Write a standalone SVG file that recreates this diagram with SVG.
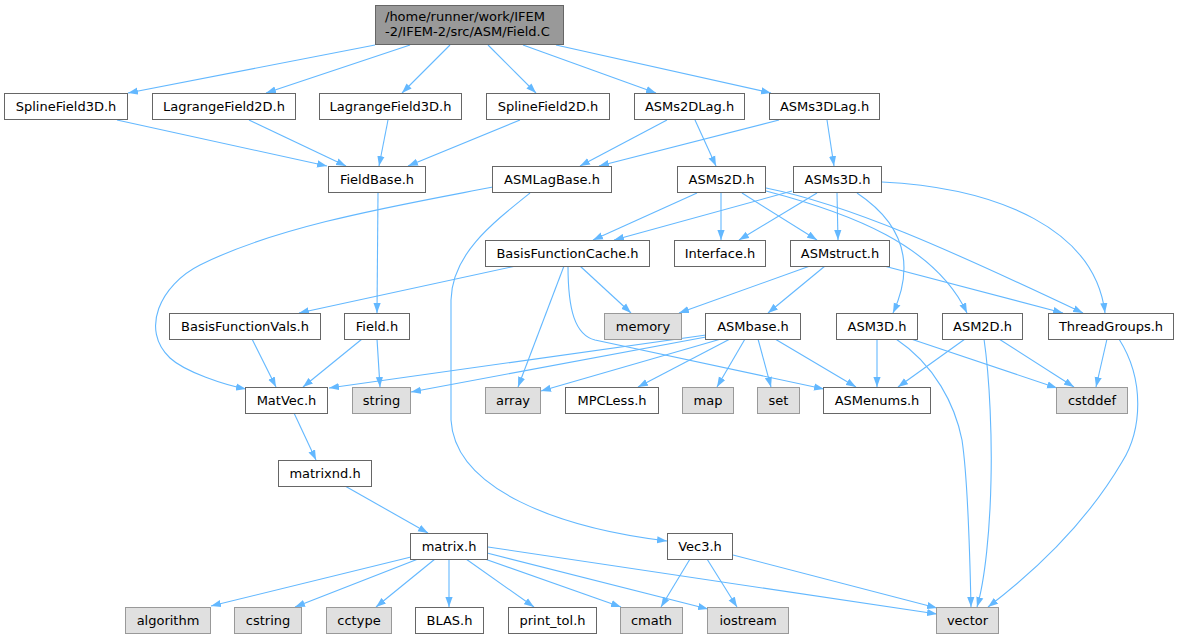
<svg xmlns="http://www.w3.org/2000/svg" width="1179" height="637" viewBox="0 0 1179 637">
<style>
.n rect{fill:#ffffff;stroke:#666666;stroke-width:1}
.s rect{fill:#e0e0e0;stroke:#999999;stroke-width:1}
.r rect{fill:#999999;stroke:#666666;stroke-width:1}
text{font-family:"DejaVu Sans","Liberation Sans",sans-serif;font-size:13px;fill:#000;text-anchor:middle}
.r text{text-anchor:start}
#edges path{fill:none;stroke:#63b8ff;stroke-width:1.1;marker-end:url(#a)}
</style>
<defs>
<marker id="a" markerWidth="10" markerHeight="8" refX="10" refY="4" orient="auto" markerUnits="userSpaceOnUse" viewBox="0 0 10 8"><path d="M0,0.4 L10,4 L0,7.6 z" fill="#63b8ff"/></marker>
</defs>
<rect width="1179" height="637" fill="#ffffff"/>
<g id="edges">
<path d="M375,45 L128,93"/>
<path d="M410,45 L266,93"/>
<path d="M450,45 L402,93"/>
<path d="M488,45 L536,93"/>
<path d="M523,45 L656,93"/>
<path d="M556,45 L771,93"/>
<path d="M117,120 L327,166"/>
<path d="M249,120 L346,166"/>
<path d="M388,120 L379,166"/>
<path d="M520,120 L408,166"/>
<path d="M667,120 L580,166"/>
<path d="M779,120 L599,166"/>
<path d="M695,120 L716,166"/>
<path d="M827,120 L834,166"/>
<path d="M378,193 L377,313"/>
<path d="M493,187 C400,205 280,225 200,265 C160,285 140,330 170,358 C185,372 225,385 246,389"/>
<path d="M530,193 C490,225 452,255 451,300 L451,420 C455,490 560,528 667,541"/>
<path d="M697,193 L593,240"/>
<path d="M792,191 L614,240"/>
<path d="M721,193 L721,240"/>
<path d="M817,193 L739,240"/>
<path d="M742,193 L817,240"/>
<path d="M837,193 L838,240"/>
<path d="M766,191 C850,213 935,245 967,313"/>
<path d="M766,188 C850,205 950,250 1083,313"/>
<path d="M857,193 C905,225 915,265 893,313"/>
<path d="M882,182 C1000,188 1095,230 1105,313"/>
<path d="M516,266 L299,313"/>
<path d="M580,266 L631,313"/>
<path d="M564,266 L518,387"/>
<path d="M568,266 C568,310 575,335 595,340 L824,389"/>
<path d="M810,266 L679,313"/>
<path d="M825,266 L768,313"/>
<path d="M884,266 L1063,313"/>
<path d="M362,339 L303,387"/>
<path d="M377,339 L380,387"/>
<path d="M252,339 L276,387"/>
<path d="M706,335 L329,388"/>
<path d="M706,337 L411,392"/>
<path d="M721,339 L541,391"/>
<path d="M730,339 L638,387"/>
<path d="M745,339 L717,387"/>
<path d="M758,339 L771,387"/>
<path d="M775,339 L856,387"/>
<path d="M877,339 L877,387"/>
<path d="M911,339 L1057,388"/>
<path d="M965,339 L898,387"/>
<path d="M999,339 L1074,387"/>
<path d="M1107,339 L1096,387"/>
<path d="M1119,339 C1145,380 1142,430 1122,462 C1085,525 1030,575 988,607"/>
<path d="M896,339 C935,365 955,405 962,440 C968,480 970,560 971,607"/>
<path d="M984,339 C990,380 992,440 991,480 C990,530 985,580 977,607"/>
<path d="M294,413 L316,460"/>
<path d="M345,486 L428,533"/>
<path d="M411,557 L211,606"/>
<path d="M418,559 L295,607"/>
<path d="M435,559 L376,607"/>
<path d="M449,559 L449,607"/>
<path d="M466,559 L534,607"/>
<path d="M482,558 L621,607"/>
<path d="M487,553 L708,609"/>
<path d="M488,547 L937,614"/>
<path d="M690,559 L661,607"/>
<path d="M707,559 L737,607"/>
<path d="M733,555 L937,608"/>
</g>
<g id="fieldc" class="r"><rect x="375.5" y="5.5" width="188" height="39"/><text x="385" y="20.5">/home/runner/work/IFEM</text><text x="385" y="35.5">-2/IFEM-2/src/ASM/Field.C</text></g>
<g id="sf3d" class="n"><rect x="4.5" y="93.5" width="123" height="26"/><text x="66" y="111">SplineField3D.h</text></g>
<g id="lf2d" class="n"><rect x="152.5" y="93.5" width="143" height="26"/><text x="224" y="111">LagrangeField2D.h</text></g>
<g id="lf3d" class="n"><rect x="319.5" y="93.5" width="142" height="26"/><text x="390.5" y="111">LagrangeField3D.h</text></g>
<g id="sf2d" class="n"><rect x="486.5" y="93.5" width="123" height="26"/><text x="548" y="111">SplineField2D.h</text></g>
<g id="asms2dlag" class="n"><rect x="634.5" y="93.5" width="110" height="26"/><text x="689.5" y="111">ASMs2DLag.h</text></g>
<g id="asms3dlag" class="n"><rect x="769.5" y="93.5" width="110" height="26"/><text x="824.5" y="111">ASMs3DLag.h</text></g>
<g id="fieldbase" class="n"><rect x="328.5" y="166.5" width="97" height="26"/><text x="377" y="184">FieldBase.h</text></g>
<g id="asmlagbase" class="n"><rect x="492.5" y="166.5" width="119" height="26"/><text x="552" y="184">ASMLagBase.h</text></g>
<g id="asms2d" class="n"><rect x="677.5" y="166.5" width="88" height="26"/><text x="721.5" y="184">ASMs2D.h</text></g>
<g id="asms3d" class="n"><rect x="793.5" y="166.5" width="88" height="26"/><text x="837.5" y="184">ASMs3D.h</text></g>
<g id="bfc" class="n"><rect x="485.5" y="240.5" width="164" height="26"/><text x="567.5" y="258">BasisFunctionCache.h</text></g>
<g id="interface" class="n"><rect x="674.5" y="240.5" width="91" height="26"/><text x="720" y="258">Interface.h</text></g>
<g id="asmstruct" class="n"><rect x="790.5" y="240.5" width="99" height="26"/><text x="840" y="258">ASMstruct.h</text></g>
<g id="bfvals" class="n"><rect x="169.5" y="313.5" width="151" height="26"/><text x="245" y="331">BasisFunctionVals.h</text></g>
<g id="fieldh" class="n"><rect x="344.5" y="313.5" width="65" height="26"/><text x="377" y="331">Field.h</text></g>
<g id="memory" class="s"><rect x="604.5" y="313.5" width="77" height="26"/><text x="643" y="331">memory</text></g>
<g id="asmbase" class="n"><rect x="705.5" y="313.5" width="95" height="26"/><text x="753" y="331">ASMbase.h</text></g>
<g id="asm3d" class="n"><rect x="836.5" y="313.5" width="81" height="26"/><text x="877" y="331">ASM3D.h</text></g>
<g id="asm2d" class="n"><rect x="942.5" y="313.5" width="80" height="26"/><text x="982.5" y="331">ASM2D.h</text></g>
<g id="threadgroups" class="n"><rect x="1048.5" y="313.5" width="125" height="26"/><text x="1111" y="331">ThreadGroups.h</text></g>
<g id="matvec" class="n"><rect x="245.5" y="387.5" width="82" height="26"/><text x="286.5" y="405">MatVec.h</text></g>
<g id="string" class="s"><rect x="352.5" y="387.5" width="58" height="26"/><text x="381.5" y="405">string</text></g>
<g id="array" class="s"><rect x="485.5" y="387.5" width="55" height="26"/><text x="513" y="405">array</text></g>
<g id="mpcless" class="n"><rect x="565.5" y="387.5" width="93" height="26"/><text x="612" y="405">MPCLess.h</text></g>
<g id="map" class="s"><rect x="682.5" y="387.5" width="51" height="26"/><text x="708" y="405">map</text></g>
<g id="set" class="s"><rect x="757.5" y="387.5" width="42" height="26"/><text x="778.5" y="405">set</text></g>
<g id="asmenums" class="n"><rect x="823.5" y="387.5" width="107" height="26"/><text x="877" y="405">ASMenums.h</text></g>
<g id="cstddef" class="s"><rect x="1056.5" y="387.5" width="71" height="26"/><text x="1092" y="405">cstddef</text></g>
<g id="matrixnd" class="n"><rect x="278.5" y="460.5" width="93" height="26"/><text x="325" y="478">matrixnd.h</text></g>
<g id="matrix" class="n"><rect x="410.5" y="533.5" width="77" height="26"/><text x="449" y="551">matrix.h</text></g>
<g id="vec3" class="n"><rect x="667.5" y="533.5" width="65" height="26"/><text x="700" y="551">Vec3.h</text></g>
<g id="algorithm" class="s"><rect x="125.5" y="607.5" width="85" height="26"/><text x="168" y="625">algorithm</text></g>
<g id="cstring" class="s"><rect x="234.5" y="607.5" width="67" height="26"/><text x="268" y="625">cstring</text></g>
<g id="cctype" class="s"><rect x="326.5" y="607.5" width="65" height="26"/><text x="359" y="625">cctype</text></g>
<g id="blas" class="n"><rect x="415.5" y="607.5" width="68" height="26"/><text x="449.5" y="625">BLAS.h</text></g>
<g id="printtol" class="n"><rect x="508.5" y="607.5" width="88" height="26"/><text x="552.5" y="625">print_tol.h</text></g>
<g id="cmath" class="s"><rect x="620.5" y="607.5" width="62" height="26"/><text x="651.5" y="625">cmath</text></g>
<g id="iostream" class="s"><rect x="707.5" y="607.5" width="81" height="26"/><text x="748" y="625">iostream</text></g>
<g id="vector" class="s"><rect x="936.5" y="607.5" width="62" height="26"/><text x="967.5" y="625">vector</text></g>
</svg>
